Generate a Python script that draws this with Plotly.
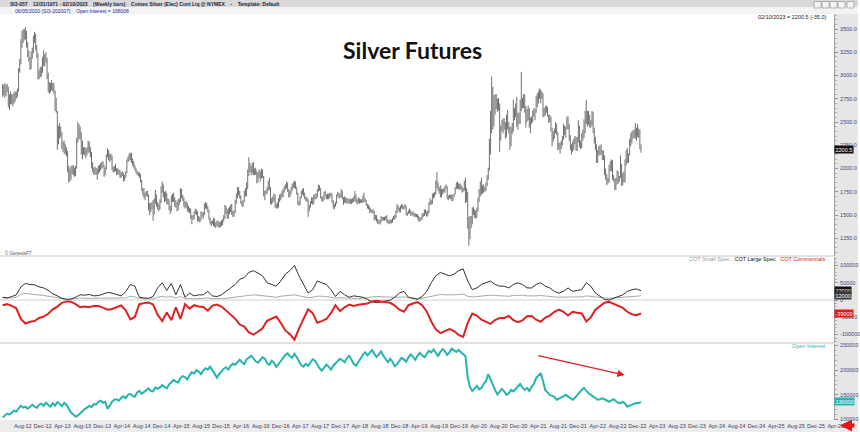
import pandas as pd
import plotly.graph_objects as go

# ---------------- data ----------------
LAST_DATE = "2023-02-10"
LAST_PRICE = 2200.5
PRICE_CHANGE = -35.0

# weekly bar lows / highs (Comex silver, continuous), May-2012 .. Feb-2023
PRICE_LOW = [
    # 2012
    2770, 2790, 2760, 2780, 2820, 2660, 2630, 2690, 2690, 2670, 2700, 2720, 2750, 2770, 2830, 3030, 3120,
    3300, 3350, 3380, 3390, 3300, 3200, 3150, 3060, 3070, 3180, 3240, 3350, 3270, 3190, 2960, 2960,
    # 2013
    2980, 2990, 3030, 3100, 3100, 3140, 2960, 2820, 2800, 2820, 2840, 2830, 2800, 2620, 2600, 2200, 2260,
    2320, 2340, 2210, 2180, 2160, 2150, 2130, 1960, 1850, 1860, 1880, 1940, 1930, 1910, 1920, 2000, 2280,
    2320, 2310, 2150, 2100, 2150, 2140, 2110, 2140, 2170, 2170, 2120, 2000, 1960, 1930, 1940, 1930, 1880, 1940,
    # 2014
    1960, 1980, 2000, 2010, 1910, 1930, 1990, 2120, 2090, 2070, 2090, 1980, 1960, 1960, 1970, 1930, 1940,
    1930, 1900, 1900, 1920, 1860, 1870, 1900, 1950, 2070, 2080, 2090, 2060, 2030, 2010, 1980, 1950, 1930,
    1920, 1900, 1850, 1760, 1710, 1680, 1660, 1700, 1700, 1550, 1500, 1530, 1560, 1440, 1510, 1620, 1590, 1560,
    # 2015
    1540, 1560, 1630, 1740, 1690, 1640, 1650, 1620, 1610, 1550, 1510, 1540, 1640, 1640, 1590, 1580, 1540,
    1550, 1610, 1640, 1680, 1650, 1590, 1570, 1580, 1540, 1530, 1520, 1460, 1400, 1450, 1450, 1510, 1500,
    1430, 1430, 1420, 1440, 1480, 1460, 1500, 1570, 1560, 1530, 1450, 1400, 1380, 1400, 1380, 1370, 1360, 1380,
    # 2016
    1370, 1360, 1370, 1380, 1390, 1430, 1460, 1510, 1460, 1460, 1510, 1530, 1500, 1480, 1480, 1520, 1620,
    1680, 1710, 1680, 1620, 1590, 1590, 1640, 1700, 1700, 1780, 1920, 1960, 1930, 1950, 1930, 1930, 1930,
    1840, 1850, 1900, 1860, 1890, 1900, 1700, 1660, 1720, 1730, 1760, 1770, 1620, 1610, 1630, 1650, 1580, 1570, 1570,
    # 2017
    1580, 1640, 1660, 1690, 1690, 1740, 1770, 1790, 1750, 1690, 1690, 1720, 1760, 1790, 1790, 1780, 1720,
    1610, 1600, 1610, 1680, 1720, 1700, 1670, 1650, 1640, 1480, 1540, 1580, 1620, 1610, 1620, 1670, 1670,
    1690, 1750, 1760, 1680, 1650, 1640, 1660, 1700, 1670, 1670, 1670, 1680, 1700, 1630, 1570, 1560, 1590, 1620,
    # 2018
    1700, 1680, 1680, 1690, 1670, 1610, 1630, 1630, 1620, 1630, 1620, 1620, 1620, 1630, 1640, 1650, 1630,
    1610, 1630, 1620, 1630, 1630, 1630, 1640, 1640, 1600, 1570, 1560, 1520, 1530, 1520, 1520, 1440, 1450,
    1430, 1410, 1400, 1400, 1420, 1440, 1440, 1440, 1450, 1420, 1410, 1400, 1410, 1410, 1420, 1450, 1450, 1470,
    # 2019
    1520, 1550, 1530, 1530, 1570, 1560, 1560, 1570, 1500, 1490, 1510, 1520, 1490, 1500, 1490, 1480, 1480,
    1480, 1460, 1430, 1430, 1440, 1450, 1480, 1490, 1510, 1480, 1490, 1520, 1610, 1610, 1620, 1680, 1690,
    1720, 1790, 1760, 1730, 1690, 1690, 1720, 1740, 1740, 1780, 1670, 1660, 1680, 1670, 1650, 1650, 1690, 1720,
    # 2020
    1780, 1780, 1780, 1770, 1770, 1740, 1750, 1760, 1630, 1640, 1350, 1170, 1240, 1360, 1400, 1500, 1470,
    1460, 1470, 1540, 1640, 1700, 1720, 1730, 1740, 1750, 1760, 1810, 1880, 1980, 2150, 2380, 2420, 2450,
    2580, 2640, 2610, 2620, 2180, 2300, 2400, 2380, 2420, 2320, 2340, 2420, 2380, 2200, 2240, 2370, 2400, 2520,
    # 2021
    2550, 2450, 2420, 2480, 2480, 2620, 2650, 2650, 2600, 2440, 2500, 2520, 2440, 2380, 2480, 2500, 2560,
    2520, 2600, 2660, 2700, 2750, 2700, 2750, 2550, 2560, 2570, 2600, 2560, 2490, 2500, 2400, 2240, 2290,
    2320, 2380, 2360, 2200, 2200, 2160, 2210, 2250, 2310, 2360, 2330, 2420, 2420, 2300, 2200, 2150, 2180, 2200, 2260,
    # 2022
    2190, 2190, 2280, 2230, 2210, 2220, 2300, 2330, 2380, 2480, 2450, 2470, 2440, 2440, 2460, 2380, 2270,
    2200, 2060, 2060, 2140, 2140, 2150, 2090, 2090, 1930, 1880, 1820, 1840, 1850, 1970, 1970, 1880, 1860,
    1770, 1770, 1830, 1840, 1860, 1900, 1810, 1820, 1850, 1850, 2030, 2060, 2060, 2140, 2240, 2270, 2320, 2330,
    # 2023
    2320, 2300, 2340, 2330, 2210, 2170,
]
PRICE_HIGH = [
    # 2012
    2910, 2900, 2920, 2900, 2910, 2880, 2800, 2830, 2800, 2800, 2820, 2830, 2830, 2860, 3080, 3180, 3390,
    3480, 3500, 3500, 3520, 3480, 3360, 3270, 3200, 3260, 3300, 3430, 3470, 3450, 3330, 3240, 3060,
    # 2013
    3090, 3100, 3200, 3270, 3230, 3250, 3190, 3030, 2930, 2920, 2950, 2920, 2920, 2840, 2760, 2620, 2460,
    2490, 2450, 2390, 2290, 2300, 2260, 2230, 2190, 2030, 2000, 2030, 2030, 2040, 2010, 2030, 2330, 2500,
    2480, 2450, 2390, 2300, 2230, 2230, 2220, 2230, 2300, 2290, 2230, 2180, 2070, 2010, 2020, 2010, 2000, 2030,
    # 2014
    2040, 2060, 2070, 2080, 2040, 2010, 2150, 2220, 2200, 2160, 2160, 2140, 2020, 2030, 2050, 2010, 2000,
    1990, 1980, 1960, 1970, 1950, 1930, 1970, 2100, 2130, 2160, 2170, 2170, 2110, 2080, 2040, 2010, 1980,
    1960, 1960, 1940, 1880, 1790, 1790, 1740, 1760, 1760, 1720, 1630, 1630, 1640, 1660, 1680, 1770, 1720, 1640,
    # 2015
    1620, 1670, 1810, 1860, 1830, 1750, 1760, 1740, 1680, 1670, 1600, 1710, 1730, 1740, 1690, 1660, 1640,
    1670, 1680, 1790, 1780, 1720, 1690, 1650, 1650, 1630, 1600, 1580, 1570, 1500, 1500, 1540, 1570, 1560,
    1540, 1490, 1480, 1540, 1530, 1530, 1620, 1640, 1630, 1600, 1560, 1470, 1440, 1440, 1470, 1460, 1420, 1440,
    # 2016
    1440, 1420, 1430, 1440, 1460, 1500, 1610, 1600, 1560, 1570, 1590, 1610, 1620, 1540, 1550, 1660, 1730,
    1800, 1800, 1760, 1710, 1650, 1660, 1760, 1790, 1850, 1990, 2120, 2060, 2030, 2060, 2070, 2000, 2010,
    1970, 1960, 1990, 1970, 2000, 1990, 1920, 1760, 1770, 1800, 1870, 1900, 1800, 1680, 1700, 1730, 1720, 1620, 1640,
    # 2017
    1680, 1720, 1730, 1760, 1780, 1810, 1830, 1860, 1850, 1780, 1760, 1800, 1840, 1850, 1870, 1860, 1800,
    1740, 1650, 1700, 1760, 1780, 1790, 1740, 1700, 1690, 1670, 1610, 1650, 1690, 1690, 1720, 1730, 1730,
    1780, 1830, 1820, 1790, 1700, 1700, 1750, 1760, 1720, 1730, 1730, 1740, 1740, 1730, 1660, 1620, 1640, 1720,
    # 2018
    1750, 1740, 1730, 1780, 1760, 1690, 1700, 1690, 1680, 1680, 1670, 1680, 1670, 1680, 1700, 1760, 1720,
    1670, 1690, 1680, 1670, 1670, 1710, 1740, 1680, 1660, 1620, 1610, 1590, 1570, 1560, 1560, 1540, 1500,
    1500, 1460, 1440, 1450, 1490, 1480, 1480, 1480, 1490, 1500, 1450, 1450, 1450, 1450, 1470, 1490, 1500, 1550,
    # 2019
    1620, 1600, 1580, 1600, 1620, 1610, 1600, 1620, 1600, 1530, 1550, 1570, 1550, 1530, 1540, 1520, 1520,
    1510, 1510, 1490, 1470, 1480, 1520, 1520, 1560, 1560, 1540, 1550, 1640, 1680, 1660, 1730, 1740, 1750,
    1870, 1960, 1850, 1800, 1820, 1780, 1780, 1790, 1810, 1830, 1810, 1710, 1720, 1720, 1720, 1720, 1730, 1800,
    # 2020
    1850, 1860, 1840, 1840, 1830, 1810, 1790, 1870, 1900, 1790, 1750, 1480, 1490, 1490, 1580, 1590, 1560,
    1550, 1580, 1690, 1780, 1860, 1900, 1820, 1830, 1800, 1850, 1930, 2010, 2320, 2620, 2990, 2880, 2790,
    2800, 2800, 2750, 2760, 2700, 2460, 2520, 2540, 2540, 2500, 2580, 2630, 2500, 2450, 2450, 2490, 2740, 2650,
    # 2021
    2700, 2770, 2600, 2600, 2740, 3040, 2760, 2800, 2800, 2670, 2640, 2680, 2650, 2550, 2560, 2620, 2650,
    2640, 2780, 2810, 2830, 2860, 2850, 2830, 2810, 2650, 2670, 2680, 2660, 2580, 2580, 2560, 2440, 2400,
    2430, 2500, 2480, 2390, 2280, 2280, 2300, 2350, 2480, 2460, 2450, 2560, 2560, 2480, 2360, 2260, 2290, 2320, 2350,
    # 2022
    2340, 2340, 2520, 2460, 2300, 2380, 2420, 2530, 2620, 2740, 2620, 2620, 2580, 2520, 2620, 2610, 2440,
    2340, 2260, 2200, 2240, 2250, 2260, 2200, 2190, 2140, 2000, 1940, 1900, 2040, 2080, 2100, 2090, 1930,
    1890, 1900, 1980, 1970, 1920, 2140, 2050, 1950, 1970, 2100, 2200, 2220, 2160, 2320, 2380, 2400, 2410, 2420,
    # 2023
    2490, 2440, 2480, 2430, 2420, 2260,
]

# COT net positions, every 4 weeks ending 02/10/2023
COT_LARGE = [
    8000, 6000, 10000, 15000, 38000, 48000, 45000, 44000, 38000, 35000,
    28000, 18000, 12000, 5000, 2000, 3000, 8000, 15000, 14000, 16000,
    12000, 13000, 17000, 22000, 20000, 16000, 12000, 24000, 45000, 40000,
    8000, 6000, 5000, 10000, 35000, 50000, 28000, 48000, 15000, 45000,
    8000, 20000, 12000, 15000, 15000, 25000, 12000, 10000, 15000, 25000,
    35000, 45000, 60000, 65000, 80000, 85000, 78000, 70000, 50000, 45000,
    40000, 55000, 75000, 85000, 100000, 70000, 45000, 20000, 30000, 55000,
    50000, 45000, 30000, 10000, 25000, 15000, 8000, 12000, 10000, 8000,
    2000, -5000, -8000, -5000, -2000, 0, 8000, 20000, 25000, 8000,
    5000, 2000, 10000, 25000, 50000, 70000, 80000, 75000, 70000, 75000,
    85000, 90000, 55000, 30000, 35000, 45000, 50000, 55000, 45000, 40000,
    40000, 35000, 45000, 50000, 45000, 35000, 35000, 45000, 50000, 40000,
    35000, 25000, 20000, 25000, 35000, 25000, 28000, 30000, 50000, 40000,
    20000, 10000, 2000, 0, 5000, 8000, 15000, 25000, 30000, 32000, 27000,
]
COT_SMALL = [
    6000, 5000, 6000, 8000, 16000, 19000, 18000, 16000, 14000, 13000,
    11000, 9000, 7000, 3000, 2000, 2000, 4000, 6000, 5000, 5000,
    5000, 4000, 5000, 6000, 6000, 5000, 4000, 6000, 11000, 9000,
    4000, 3000, 2000, 3000, 8000, 11000, 8000, 10000, 6000, 10000,
    4000, 5000, 3000, 4000, 5000, 6000, 4000, 3000, 4000, 5000,
    7000, 9000, 11000, 12000, 14000, 15000, 14000, 12000, 10000, 9000,
    8000, 11000, 13000, 14000, 15000, 12000, 10000, 7000, 8000, 11000,
    11000, 10000, 8000, 5000, 7000, 6000, 5000, 5000, 4000, 5000,
    8000, 9000, 10000, 9000, 8000, 8000, 8000, 8000, 9000, 7000,
    5000, 4000, 5000, 8000, 12000, 15000, 16000, 15000, 14000, 15000,
    16000, 17000, 11000, 9000, 10000, 12000, 13000, 14000, 13000, 12000,
    12000, 11000, 13000, 14000, 14000, 12000, 11000, 12000, 13000, 11000,
    10000, 9000, 8000, 9000, 10000, 9000, 9000, 9000, 12000, 10000,
    8000, 7000, 6000, 5000, 6000, 7000, 8000, 9000, 11000, 12000, 12000,
]
COT_COMM = [
    -15000, -12000, -17000, -24000, -55000, -68000, -63000, -61000, -52000, -48000,
    -40000, -27000, -19000, -8000, -4000, -5000, -12000, -21000, -19000, -21000,
    -17000, -17000, -22000, -28000, -26000, -21000, -16000, -30000, -56000, -49000,
    -12000, -9000, -7000, -13000, -43000, -61000, -36000, -58000, -21000, -55000,
    -12000, -25000, -15000, -19000, -20000, -31000, -16000, -13000, -19000, -30000,
    -42000, -54000, -71000, -77000, -94000, -100000, -92000, -82000, -60000, -54000,
    -48000, -66000, -88000, -99000, -115000, -82000, -55000, -27000, -38000, -66000,
    -61000, -55000, -38000, -15000, -32000, -21000, -13000, -17000, -14000, -13000,
    -10000, -4000, -2000, -4000, -6000, -8000, -16000, -28000, -34000, -15000,
    -10000, -6000, -15000, -33000, -62000, -85000, -96000, -90000, -84000, -90000,
    -101000, -107000, -66000, -39000, -45000, -57000, -63000, -69000, -58000, -52000,
    -52000, -46000, -58000, -64000, -59000, -47000, -46000, -57000, -63000, -51000,
    -45000, -34000, -28000, -34000, -45000, -34000, -37000, -39000, -62000, -50000,
    -28000, -17000, -8000, -5000, -11000, -15000, -23000, -34000, -41000, -44000, -39000,
]

# open interest, every 2 weeks ending 02/10/2023
OPEN_INT = [
    # 2012
    104000, 108000, 112000, 110000, 114000, 118000, 116000, 122000, 128000, 124000, 126000, 122000, 127000,
    130000, 126000, 124000, 130000,
    # 2013
    132000, 128000, 134000, 130000, 126000, 133000, 128000, 135000, 132000, 127000, 134000, 130000, 122000,
    114000, 110000, 106000, 108000, 113000, 118000, 121000, 124000, 128000, 125000, 131000, 130000, 136000,
    # 2014
    138000, 134000, 136000, 122000, 128000, 136000, 140000, 141000, 138000, 144000, 147000, 143000, 150000,
    152000, 148000, 146000, 155000, 158000, 152000, 156000, 160000, 163000, 158000, 157000, 165000, 162000,
    # 2015
    165000, 170000, 166000, 163000, 171000, 176000, 180000, 177000, 175000, 184000, 188000, 186000, 181000,
    190000, 196000, 193000, 200000, 197000, 192000, 199000, 204000, 201000, 207000, 200000, 191000, 185000,
    # 2016
    192000, 198000, 203000, 206000, 201000, 209000, 213000, 211000, 217000, 221000, 216000, 212000, 222000,
    226000, 229000, 224000, 218000, 215000, 221000, 226000, 223000, 214000, 211000, 219000, 215000, 207000,
    # 2017
    212000, 219000, 224000, 231000, 234000, 228000, 225000, 233000, 226000, 217000, 210000, 207000, 213000,
    209000, 215000, 222000, 219000, 211000, 204000, 199000, 206000, 211000, 207000, 201000, 209000, 214000,
    # 2018
    218000, 223000, 220000, 216000, 224000, 229000, 221000, 213000, 209000, 217000, 225000, 231000, 236000,
    230000, 235000, 241000, 233000, 227000, 232000, 238000, 229000, 221000, 216000, 223000, 217000, 208000,
    # 2019
    212000, 219000, 225000, 222000, 217000, 226000, 232000, 227000, 221000, 229000, 235000, 230000, 226000,
    233000, 239000, 236000, 242000, 235000, 229000, 237000, 243000, 238000, 231000, 236000, 244000, 240000,
    # 2020
    237000, 241000, 236000, 232000, 228000, 185000, 165000, 158000, 163000, 168000, 161000, 164000, 172000,
    178000, 192000, 180000, 171000, 160000, 151000, 156000, 162000, 157000, 150000, 153000, 160000, 157000,
    # 2021
    162000, 168000, 172000, 165000, 160000, 164000, 158000, 166000, 172000, 184000, 190000, 194000, 178000,
    160000, 155000, 150000, 148000, 146000, 140000, 142000, 144000, 147000, 150000, 146000, 142000, 140000, 144000,
    # 2022
    150000, 156000, 160000, 164000, 158000, 153000, 150000, 146000, 143000, 140000, 141000, 143000, 141000,
    138000, 136000, 139000, 141000, 137000, 134000, 133000, 136000, 132000, 126000, 128000, 130000, 132000,
    # 2023
    134000, 133000, 136000,
]

PRICE_TICKS = [1250, 1500, 1750, 2000, 2250, 2500, 2750, 3000, 3250, 3500]
COT_TICKS = [-100000, -50000, 0, 50000, 100000]
OI_TICKS = [100000, 150000, 200000, 250000]

HEADER_1 = ("SI3-057    12/31/1971 - 02/10/2023    (Weekly bars)    "
            "Comex Silver (Elec) Cont Liq @ NYMEX    -    Template: Default")
HEADER_2 = "06/05/2020 (SI3-202007)    Open Interest = 168008"
TITLE = "Silver Futures"

# ---------------- geometry ----------------
W, H = 860, 432
ML, MR, MT, MB = 0, 24, 14, 12
PW, PH = W - ML - MR, H - MT - MB


def py(p):
    return (H - MB - p) / PH


def pxx(p):
    return (p - ML) / PW


week_dates = pd.date_range(end=LAST_DATE, periods=len(PRICE_HIGH), freq="W-FRI")
cot_dates = pd.date_range(end=LAST_DATE, periods=len(COT_LARGE), freq="4W-FRI")
oi_dates = pd.date_range(end=LAST_DATE, periods=len(OPEN_INT), freq="2W-FRI")

fig = go.Figure()

bx, by = [], []
for d, lo, hi in zip(week_dates, PRICE_LOW, PRICE_HIGH):
    bx += [d, d, None]
    by += [lo, hi, None]
fig.add_trace(go.Scatter(x=bx, y=by, mode="lines", line=dict(color="#707070", width=1),
                         xaxis="x", yaxis="y", hoverinfo="skip"))

fig.add_trace(go.Scatter(x=cot_dates, y=COT_SMALL, mode="lines",
                         line=dict(color="#a8a8a8", width=1), xaxis="x", yaxis="y2"))
fig.add_trace(go.Scatter(x=cot_dates, y=COT_LARGE, mode="lines",
                         line=dict(color="#303030", width=1), xaxis="x", yaxis="y2"))
fig.add_trace(go.Scatter(x=cot_dates, y=COT_COMM, mode="lines",
                         line=dict(color="#e02020", width=2), xaxis="x", yaxis="y2"))
fig.add_trace(go.Scatter(x=oi_dates, y=OPEN_INT, mode="lines",
                         line=dict(color="#25b5ad", width=2), xaxis="x", yaxis="y3"))

TF = dict(size=5.5, color="#45457a", family="Liberation Sans")
common_y = dict(side="right", showgrid=False, zeroline=False, showline=True, linecolor="#a0a0a0",
                linewidth=1, ticks="outside", ticklen=3, tickcolor="#909090", tickfont=TF,
                tickmode="array", ticklabelstandoff=1, fixedrange=True)

fig.update_layout(
    width=W, height=H, margin=dict(l=ML, r=MR, t=MT, b=MB),
    paper_bgcolor="white", plot_bgcolor="white", showlegend=False, hovermode=False,
    xaxis=dict(type="date", range=["2012-05-02", "2026-05-10"], anchor="y3",
               tick0="2012-08-01", dtick="M4", tickformat="%b-%y", ticks="",
               tickfont=dict(size=5.5, color="#3c3c5c", family="Liberation Sans"),
               showgrid=False, zeroline=False, showline=False, ticklabelshift=8,
               ticklabelstandoff=1, fixedrange=True),
    yaxis=dict(domain=[py(255.5), 1], range=[1065, 3662],
               tickvals=PRICE_TICKS, ticktext=[f"{v:.1f}" for v in PRICE_TICKS],
               minor=dict(ticks="outside", ticklen=2, tickcolor="#b0b0b0", dtick=50, tick0=0),
               **common_y),
    yaxis2=dict(domain=[py(342.5), py(256.5)], range=[-123000, 126000], anchor="x",
                tickvals=COT_TICKS, ticktext=[str(v) for v in COT_TICKS],
                minor=dict(ticks="outside", ticklen=2, tickcolor="#b0b0b0", dtick=10000, tick0=0),
                **common_y),
    yaxis3=dict(domain=[0, py(343.5)], range=[99000, 254000], anchor="x",
                tickvals=OI_TICKS, ticktext=[str(v) for v in OI_TICKS],
                minor=dict(ticks="outside", ticklen=2, tickcolor="#b0b0b0", dtick=10000, tick0=0),
                **common_y),
)

shapes = [
    dict(type="rect", xref="paper", yref="paper", x0=1, x1=pxx(W), y0=py(H), y1=py(14),
         fillcolor="#e6e6e6", line=dict(width=0), layer="below"),
    dict(type="rect", xref="paper", yref="paper", x0=0, x1=pxx(W), y0=py(H), y1=py(420),
         fillcolor="#ececec", line=dict(width=0), layer="below"),
    dict(type="rect", xref="paper", yref="paper", x0=0, x1=pxx(W), y0=py(7), y1=py(0),
         fillcolor="#d9d9d9", line=dict(width=0), layer="below"),
    dict(type="rect", xref="paper", yref="paper", x0=0, x1=pxx(W), y0=py(14), y1=py(7),
         fillcolor="#f3f3f3", line=dict(width=0), layer="below"),
    dict(type="line", xref="paper", yref="paper", x0=0, x1=1, y0=py(256), y1=py(256),
         line=dict(color="#c4c4c4", width=1)),
    dict(type="line", xref="paper", yref="paper", x0=0, x1=1, y0=py(343), y1=py(343),
         line=dict(color="#c4c4c4", width=1)),
    dict(type="line", xref="paper", yref="y2", x0=0, x1=1, y0=0, y1=0,
         line=dict(color="#cfcfcf", width=1), layer="below"),
]
for bxp in [816, 824, 832, 840, 849]:
    shapes.append(dict(type="rect", xref="paper", yref="paper", x0=pxx(bxp), x1=pxx(bxp + 7),
                       y0=py(8), y1=py(1.5), fillcolor="#f4f4f4",
                       line=dict(color="#8a8a8a", width=0.6)))
fig.update_layout(shapes=shapes)


def label(x, y, text, size, color, xa="left", ya="middle", **kw):
    return dict(x=x, y=y, xref="paper", yref="paper", text=text, showarrow=False,
                xanchor=xa, yanchor=ya,
                font=dict(size=size, color=color, family=kw.pop("family", "Liberation Sans")), **kw)


def box(yval, yref, text, bg):
    return dict(x=1.0, y=yval, xref="paper", yref=yref, text=text, showarrow=False,
                xanchor="left", yanchor="middle", bgcolor=bg, borderpad=0.5,
                font=dict(size=5.5, color="white", family="Liberation Sans"))


ann = [
    label(pxx(413), py(50), f"<b>{TITLE}</b>", 23, "#111111", xa="center", family="Lato"),
    label(pxx(8), py(3.6), f"<b>{HEADER_1}</b>", 5, "#1e1e3e"),
    label(pxx(13), py(10.5), HEADER_2, 5, "#2a2a9a"),
    label(pxx(831), py(17.5),
          f"{pd.Timestamp(LAST_DATE):%m/%d/%Y} = {LAST_PRICE:.1f} ({PRICE_CHANGE:.1f})",
          5.5, "#222222", xa="right"),
    label(pxx(3), py(252.5), "© GenesisFT", 4.5, "#555555"),
    label(pxx(830), py(259),
          "<span style='color:#9a9a9a'>COT Small Spec</span>   "
          "<span style='color:#111111'>COT Large Spec</span>   "
          "<span style='color:#e02020'>COT Commercials</span>", 5.5, "#111111", xa="right"),
    label(pxx(830), py(345.5), "Open Interest", 5.5, "#25b5ad", xa="right"),
    box(LAST_PRICE, "y", f"{LAST_PRICE:.1f}", "#111111"),
    box(COT_LARGE[-1], "y2", str(COT_LARGE[-1]), "#111111"),
    box(COT_SMALL[-1], "y2", str(COT_SMALL[-1]), "#3a3a3a"),
    box(COT_COMM[-1], "y2", str(COT_COMM[-1]), "#e8141c"),
    box(OPEN_INT[-1], "y3", str(OPEN_INT[-1]), "#25b5ad"),
    # drawn trend arrow on open interest
    dict(x="2022-11-01", y=190000, xref="x", yref="y3", ax="2021-05-11", ay=230000,
         axref="x", ayref="y3", text="", showarrow=True, arrowhead=2, arrowsize=1.2,
         arrowwidth=1.2, arrowcolor="#e02020"),
    # scroll arrow, bottom right
    dict(x=pxx(842), y=py(425.5), xref="paper", yref="paper", ax=16, ay=0, text="",
         showarrow=True, arrowhead=2, arrowsize=0.6, arrowwidth=4, arrowcolor="#e8141c"),
]
fig.update_layout(annotations=ann)

fig.write_html("out.html", config={"displayModeBar": False, "staticPlot": True},
               post_script="document.body.style.margin='0px';"
                           "document.body.style.padding='0px';")
